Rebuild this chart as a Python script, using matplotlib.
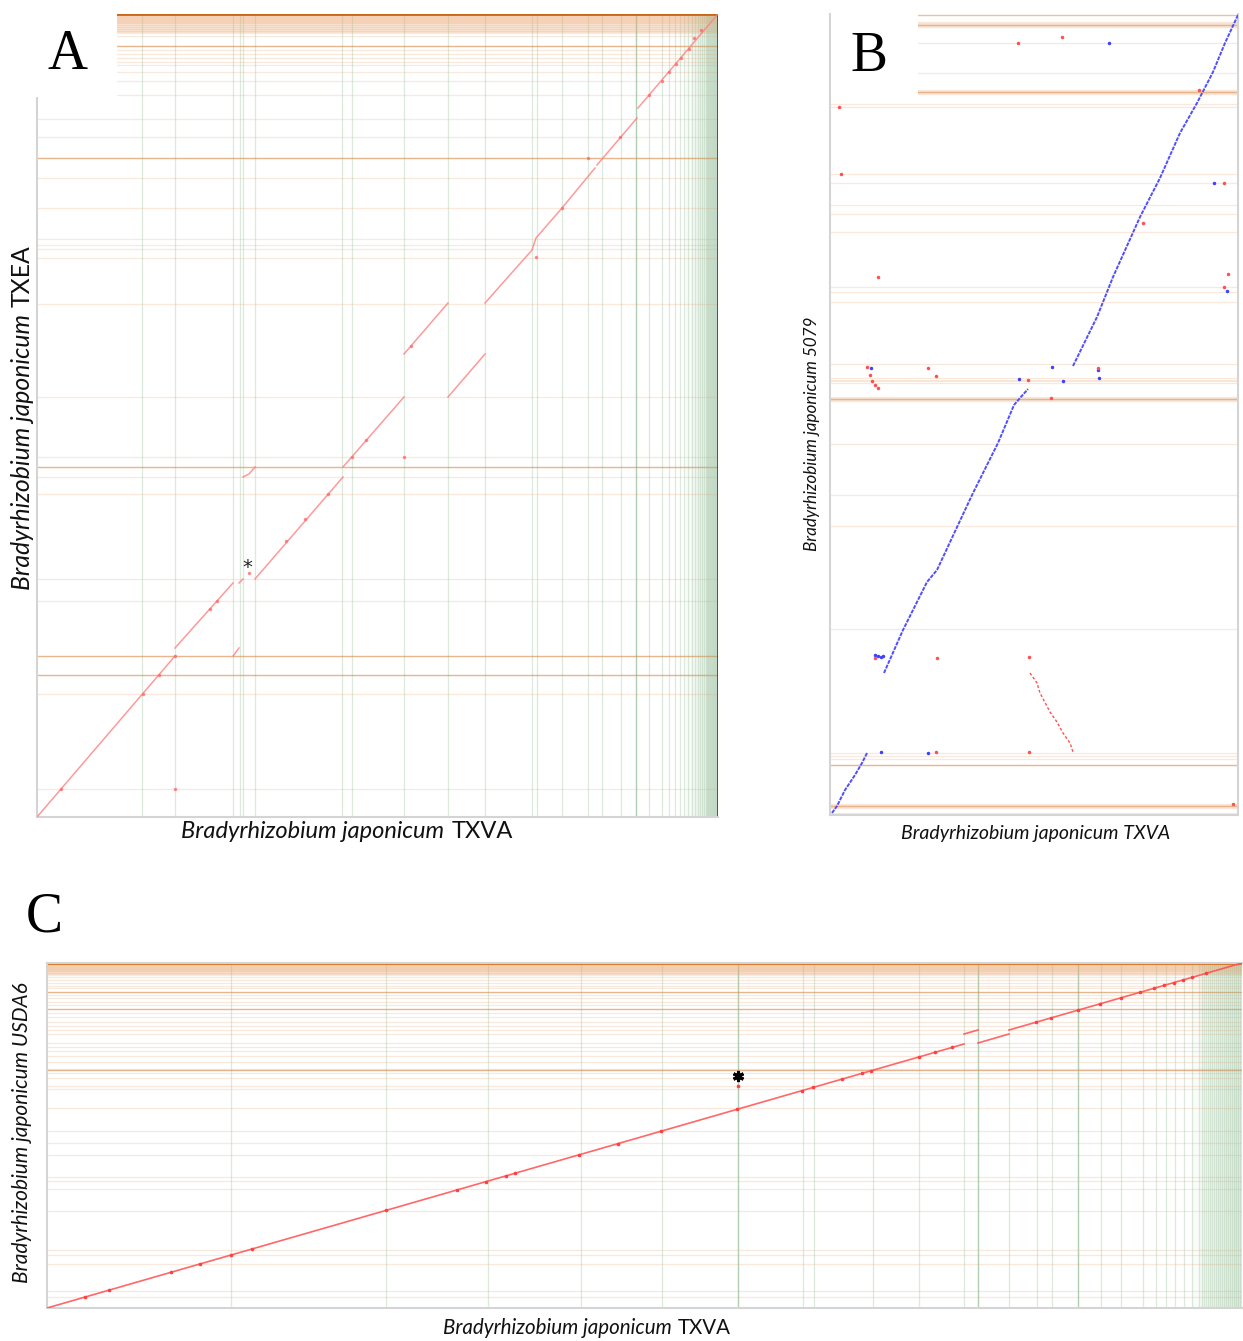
import matplotlib.pyplot as plt
from matplotlib.patches import Rectangle

# ---- panel A: TXVA (x) vs TXEA (y), positions ----
a_x_len, a_y_len = 681, 803
a_green = [105, 138, 196, 203, 206, 218, 305, 315, 367, 411, 448, 495, 500, 525, 551, 565,
           584, 599, 612, 625, 632, 638, 643, 647, 651, 655, 658, 661, 663, 665, 667, 669,
           670, 671, 672, 673, 674, 675, 676, 677, 678, 679, 680]
a_green_strong = [599]
a_orange = [802, 801, 800, 799, 798, 797, 796, 795, 794, 792, 790, 788, 786, 784, 781, 771,
            767, 763, 759, 755, 752, 745, 736, 722, 698, 680, 659, 639, 609, 578, 572, 568,
            559, 513, 420, 360, 350, 340, 323, 238, 216, 161, 142, 123, 28]
a_orange_strong = [771, 659, 350, 161, 142]
a_segments = [
    [(0, 0), (138, 161)],
    [(138, 169), (196, 234)],
    [(196, 161), (202, 169)],
    [(202, 234), (206, 238)],
    [(206, 340), (212, 343), (218, 350)],
    [(218, 238), (306, 340)],
    [(306, 350), (367, 420)],
    [(367, 463), (411, 514)],
    [(411, 420), (448, 463)],
    [(448, 514), (495, 567), (499, 579), (525, 609), (558, 649)],
    [(560, 652), (600, 699)],
    [(601, 709), (681, 803)],
]
a_dots_x = [24, 106, 122, 138, 173, 180, 138, 212, 249, 268, 291, 315, 329, 374, 367, 499,
            551, 525, 583, 612, 625, 632, 639, 644, 652, 657, 664]
a_dots_y = [28, 123, 142, 161, 208, 216, 28, 244, 276, 298, 323, 360, 377, 471, 360, 560,
            659, 609, 680, 722, 736, 745, 753, 759, 768, 779, 787]

# ---- panel B: TXVA (x) vs 5079 (y) ----
b_x_len, b_y_len = 408, 801
b_orange = [793, 792, 791, 790, 789, 788, 772, 742, 725, 724, 723, 722, 721, 711, 708, 641,
            632, 610, 601, 583, 528, 523, 513, 451, 437, 435, 434, 432, 418, 417, 416, 415,
            414, 371, 320, 289, 186, 62, 59, 56, 50, 11, 10, 9, 8, 7, 2]
b_orange_strong = [800, 790, 723, 416, 50, 9]
b_blue_paths = [
    [(2, 2), (7, 9), (15, 25), (25, 40), (32, 52), (37, 62)],
    [(54, 142), (73, 185), (97, 233), (107, 245), (128, 290), (143, 322), (168, 372),
     (184, 410), (190, 417), (198, 426)],
    [(243, 449), (267, 498), (283, 538), (310, 598), (330, 637), (350, 682), (367, 712),
     (383, 743), (395, 772), (408, 800)],
]
b_blue_x = [41, 45, 48, 51, 53, 51, 98, 189, 222, 233, 268, 269, 279, 384, 397]
b_blue_y = [447, 160, 159, 158, 159, 63, 62, 436, 448, 434, 445, 437, 772, 632, 524]
b_red_x = [188, 232, 9, 11, 394, 313, 48, 398, 394, 369, 37, 40, 42, 45, 48, 98, 106, 268,
           198, 221, 45, 107, 199, 106, 199, 403]
b_red_y = [772, 778, 708, 641, 632, 592, 538, 541, 528, 725, 448, 440, 434, 430, 427, 447,
           439, 447, 435, 417, 157, 157, 158, 63, 63, 11]
b_inv_x = [200, 207, 210, 220, 227, 233, 240, 243]
b_inv_y = [142, 132, 122, 103, 93, 82, 72, 63]

# ---- panel C: TXVA (x) vs USDA6 (y) ----
c_x_len, c_y_len = 1195, 345
c_green = [184, 339, 441, 534, 615, 691, 756, 767, 826, 872, 917, 931, 962, 990, 1005, 1031,
           1054, 1074, 1096, 1109, 1119, 1128, 1137, 1145, 1152, 1155, 1157, 1159, 1161, 1163,
           1165, 1167, 1169, 1171, 1173, 1175, 1177, 1179, 1181, 1183, 1185, 1187, 1189,
           1191, 1193]
c_green_strong = [691, 931, 1031]
c_orange = [11, 17, 44, 53, 58, 97, 119, 127, 131, 153, 165, 177, 200, 219, 222, 230, 235,
            238, 239, 246, 252, 257, 261, 265, 274, 278, 282, 286, 291, 295, 299, 303, 306,
            310, 313, 316, 320, 322, 325, 328, 331, 333, 335, 337, 338, 339, 340, 341, 342,
            343, 344]
c_orange_strong = [316, 299, 238]
c_segments = [
    [(0, 0), (917, 264)],
    [(917, 274), (931, 278)],
    [(931, 265), (962, 274)],
    [(962, 278), (1195, 345)],
]
c_dots_x = [38, 62, 124, 153, 184, 205, 339, 410, 439, 459, 468, 532, 571, 614, 690, 755,
            766, 795, 815, 824, 872, 888, 905, 989, 1004, 1031, 1053, 1074, 1093, 1107, 1117,
            1127, 1136, 1145, 1159, 691]
c_dots_y = [11, 18, 36, 44, 53, 59, 98, 118, 126, 132, 135, 153, 164, 177, 199, 217, 221,
            229, 235, 237, 251, 256, 261, 286, 290, 298, 304, 310, 316, 320, 323, 325, 328,
            331, 335, 222]

W, H = 1243, 1341
fig = plt.figure(figsize=(W / 100, H / 100), dpi=100)

ORANGE = '#eba874'
ORANGE_DARK = '#d98440'
GREEN = '#8cb890'
GREEN_DARK = '#0a6b1a'
FRAME = '#d4d4d4'


def make_axes(left, top, right, bottom, xlen, ylen):
    ax = fig.add_axes([left / W, 1 - bottom / H, (right - left) / W, (bottom - top) / H])
    ax.set_xlim(0, xlen)
    ax.set_ylim(0, ylen)
    ax.set_xticks([])
    ax.set_yticks([])
    for s in ax.spines.values():
        s.set_color(FRAME)
        s.set_linewidth(1.5)
    return ax


def grid_lines(ax, greens, greens_strong, oranges, oranges_strong):
    for x in greens:
        ax.axvline(x, color=GREEN, alpha=0.3, lw=0.9, zorder=1)
    for x in greens_strong:
        ax.axvline(x, color=GREEN, alpha=0.55, lw=1.0, zorder=1)
    for y in oranges:
        ax.axhline(y, color=ORANGE, alpha=0.25, lw=0.9, zorder=1)
    for y in oranges_strong:
        ax.axhline(y, color=ORANGE_DARK, alpha=0.5, lw=1.0, zorder=1)


def green_fade(ax, start, end, steps=6):
    # light green wash that gets stronger towards the right edge
    step = (end - start) / steps
    for i in range(steps):
        ax.axvspan(start + i * step, start + (i + 1) * step, color=GREEN,
                   alpha=0.04 + 0.04 * i, lw=0, zorder=1)


def label(x, y, parts, size, rot=0):
    r = fig.canvas.get_renderer()
    gap = size * 0.28 * 100 / 72
    texts = [fig.text(0, 0, s, fontsize=size, fontstyle=st, family='Lato', rotation=rot,
                      ha='left', va='center', rotation_mode='anchor', color='#111111')
             for s, st in parts]
    sizes = []
    for t in texts:
        bb = t.get_window_extent(r)
        sizes.append(bb.width if rot == 0 else bb.height)
    total = sum(sizes) + gap * (len(parts) - 1)
    pos = -total / 2
    for t, w in zip(texts, sizes):
        if rot == 0:
            t.set_position(((x + pos) / W, 1 - y / H))
        else:
            t.set_position((x / W, 1 - (y - pos) / H))
        pos += w + gap


# Panel A
axA = make_axes(37, 14, 718, 817, a_x_len, a_y_len)
axA.spines['top'].set_visible(False)
axA.spines['right'].set_visible(False)
grid_lines(axA, a_green, a_green_strong, a_orange, a_orange_strong)
axA.axhspan(784, 803, color=ORANGE, alpha=0.3, lw=0, zorder=1)
axA.axhline(803, color='#c8661c', lw=2, zorder=2)
green_fade(axA, 648, 681)
axA.axvline(681, color=GREEN_DARK, lw=2, zorder=2)
for seg in a_segments:
    xs, ys = zip(*seg)
    axA.plot(xs, ys, color='#ff8080', lw=1.1, alpha=0.8, zorder=3)
axA.plot(a_dots_x, a_dots_y, 'o', color='#ff6a6a', ms=1.5, alpha=0.7, zorder=3)
axA.text(210, 249, '*', fontsize=14, ha='center', va='center', color='#222222', zorder=4)
axA.add_patch(Rectangle((-37 / 681, 720 / 803), 117 / 681, 0.2, transform=axA.transAxes,
                        facecolor='white', edgecolor='none', zorder=10, clip_on=False))

# Panel B
axB = make_axes(830, 14, 1238, 815, b_x_len, b_y_len)
axB.spines['top'].set_visible(False)
grid_lines(axB, [], [], b_orange, b_orange_strong)
for path in b_blue_paths:
    xs, ys = zip(*path)
    axB.plot(xs, ys, color='#4f4fff', lw=1.4, ls=(0, (2, 0.6)), zorder=3)
axB.plot(b_blue_x, b_blue_y, 'o', color='#4040ff', ms=1.5, zorder=3)
axB.plot(b_red_x, b_red_y, 'o', color='#ff5050', ms=1.5, zorder=3)
axB.plot(b_inv_x, b_inv_y, color='#ff5050', lw=1.0, ls=(0, (2, 1.5)), zorder=3)
axB.add_patch(Rectangle((1 / 408, 718 / 801), 87 / 408, 0.2, transform=axB.transAxes,
                        facecolor='white', edgecolor='none', zorder=10, clip_on=False))

# Panel C
axC = make_axes(47, 963, 1242, 1308, c_x_len, c_y_len)
axC.spines['right'].set_visible(False)
grid_lines(axC, c_green, c_green_strong, c_orange, c_orange_strong)
axC.axhspan(333, 345, color=ORANGE, alpha=0.35, lw=0, zorder=1)
axC.axhline(344.5, color='#d8772a', lw=1.5, zorder=2)
green_fade(axC, 1145, 1195)
for seg in c_segments:
    xs, ys = zip(*seg)
    axC.plot(xs, ys, color='#ff4d4d', lw=1.2, alpha=0.85, zorder=3)
axC.plot(c_dots_x, c_dots_y, 'o', color='#ff4040', ms=1.6, zorder=3)
axC.plot([691], [232], marker=(6, 2, 0), color='black', ms=8, mew=2.2, zorder=4)

# panel letters
for txt, x, y in [('A', 68, 55), ('B', 869, 57), ('C', 44, 918)]:
    fig.text(x / W, 1 - y / H, txt, family='Liberation Serif', fontsize=40,
             ha='center', va='center', zorder=20)

# axis labels
label(347, 831, [('Bradyrhizobium japonicum', 'italic'), ('TXVA', 'normal')], 17)
label(22, 418, [('Bradyrhizobium japonicum', 'italic'), ('TXEA', 'normal')], 17.8, rot=90)
label(1036, 833, [('Bradyrhizobium japonicum TXVA', 'italic')], 14)
label(812, 434, [('Bradyrhizobium japonicum 5079', 'italic')], 12.3, rot=90)
label(587, 1328, [('Bradyrhizobium japonicum', 'italic'), ('TXVA', 'normal')], 14.8)
label(22, 1133, [('Bradyrhizobium japonicum USDA6', 'italic')], 15, rot=90)

fig.savefig('out.png', dpi=100)
